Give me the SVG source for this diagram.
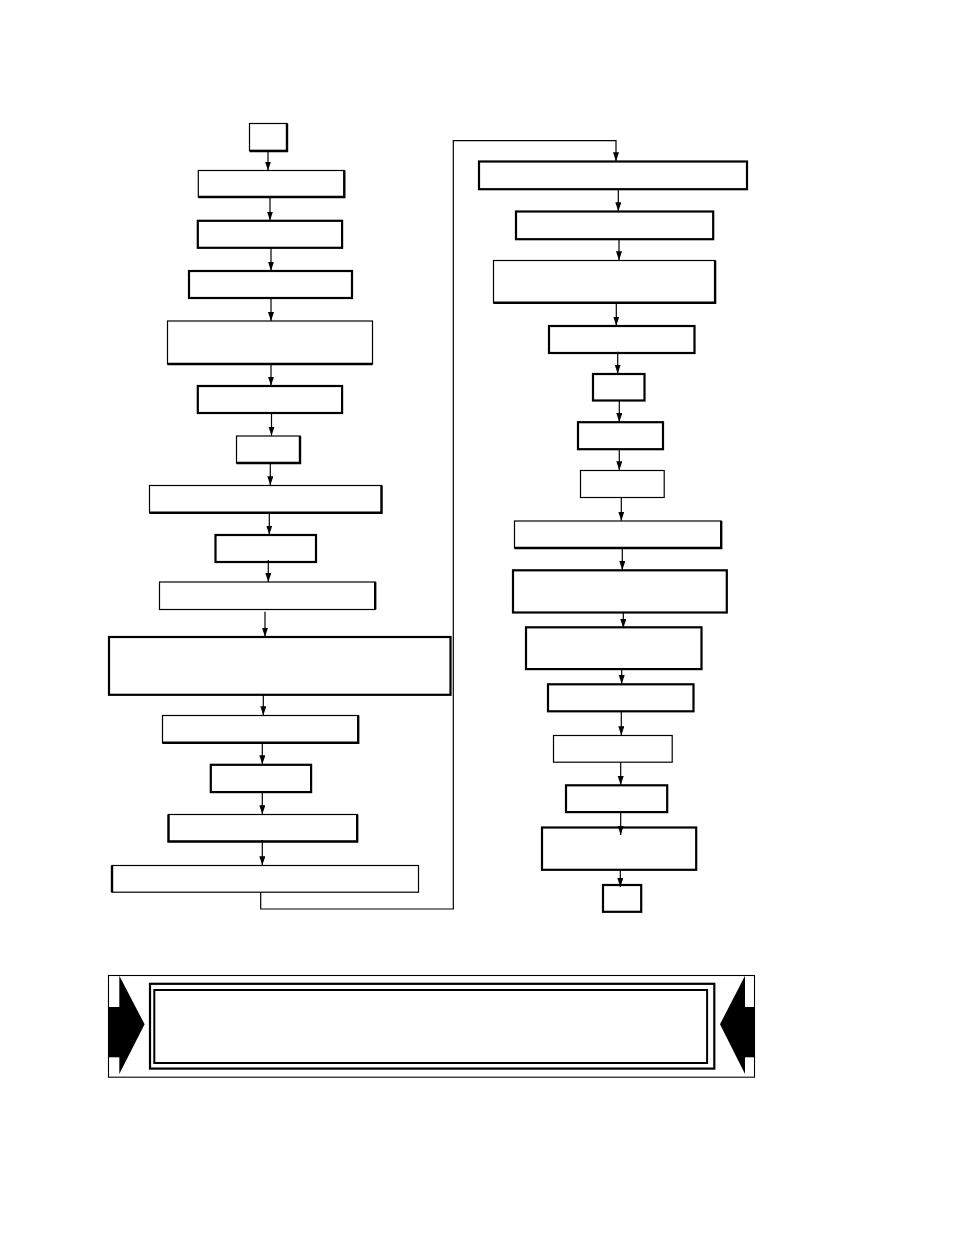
<svg xmlns="http://www.w3.org/2000/svg" width="954" height="1235" viewBox="0 0 954 1235">
<style>
.sh{fill:#fff;stroke:#000;stroke-width:1.2}
.ed{fill:none;stroke:#000;stroke-width:2.4}
.tk{fill:#fff;stroke:#000;stroke-width:2.2}
.c{fill:none;stroke:#000;stroke-width:1.2;marker-end:url(#ah)}
</style>
<defs>
<marker id="ah" markerUnits="userSpaceOnUse" markerWidth="10" markerHeight="8" refX="9" refY="3" orient="auto">
<path d="M0,0 L9,3 L0,6 z" fill="#000"/>
</marker>
</defs>
<rect width="954" height="1235" fill="#fff"/>
<g id="L1"><rect class="sh" x="249.5" y="123.5" width="37.5" height="27"/><path class="ed" d="M287,123.5 V151 H249.5"/></g>
<g id="L2"><rect class="sh" x="198.3" y="170.5" width="146" height="26.5"/><path class="ed" d="M344.3,170.5 V197 H198.3"/></g>
<g id="L3"><rect class="tk" x="197.8" y="220.8" width="144.3" height="27"/></g>
<g id="L4"><rect class="tk" x="189" y="271" width="163" height="27"/></g>
<g id="L5"><rect class="sh" x="167.5" y="321" width="205" height="43"/><path class="ed" d="M167.5,364 H372.5"/></g>
<g id="L6"><rect class="tk" x="197.8" y="386" width="144.3" height="27"/></g>
<g id="L7"><rect class="sh" x="236.5" y="436" width="63.5" height="27"/><path class="ed" d="M300,436 V463 H236.5"/></g>
<g id="L8"><rect class="sh" x="149.5" y="485.5" width="232" height="27.3"/><path class="ed" d="M381.5,485.5 V512.8 H149.5"/></g>
<g id="L9"><rect class="tk" x="215.5" y="535" width="100.5" height="27"/></g>
<g id="L10"><rect class="sh" x="159.5" y="582" width="215.7" height="27.5"/><path class="ed" d="M375.2,582 V609.5"/></g>
<g id="L11"><rect class="tk" x="109" y="637" width="341.5" height="57.8"/></g>
<g id="L12"><rect class="sh" x="162.5" y="715.5" width="195.7" height="27.3"/><path class="ed" d="M358.2,715.5 V742.8 H162.5"/></g>
<g id="L13"><rect class="tk" x="210.8" y="764.8" width="100.3" height="27.3"/></g>
<g id="L14"><rect class="sh" x="168.5" y="814.5" width="188.7" height="27"/><path class="ed" d="M168.5,814.5 V841.5 H357.2 V814.5"/></g>
<g id="L15"><rect class="sh" x="112" y="865.5" width="306.5" height="26.7"/><path class="ed" d="M112,865.5 V892.2"/></g>
<g id="R1"><rect class="tk" x="479" y="161.5" width="268" height="27.7"/></g>
<g id="R2"><rect class="tk" x="516" y="211.5" width="197.2" height="27.7"/></g>
<g id="R3"><rect class="sh" x="493.5" y="260.5" width="221.6" height="42.3"/><path class="ed" d="M715.1,260.5 V302.8 H493.5"/></g>
<g id="R4"><rect class="tk" x="549" y="326" width="145.5" height="27"/></g>
<g id="R5"><rect class="tk" x="593" y="374" width="51.5" height="26.5"/></g>
<g id="R6"><rect class="tk" x="578" y="422.2" width="85" height="27"/></g>
<g id="R7"><rect class="sh" x="580.5" y="470.5" width="83.7" height="27"/></g>
<g id="R8"><rect class="sh" x="514.5" y="521" width="206.7" height="27"/><path class="ed" d="M721.2,521 V548 H514.5"/></g>
<g id="R9"><rect class="tk" x="513" y="570.3" width="213.8" height="42.2"/></g>
<g id="R10"><rect class="tk" x="526" y="627.3" width="175.5" height="41.8"/></g>
<g id="R11"><rect class="tk" x="548" y="684.3" width="145.5" height="27"/></g>
<g id="R12"><rect class="sh" x="553.5" y="735.5" width="118.7" height="26.7"/></g>
<g id="R13"><rect class="tk" x="566" y="785.3" width="101.2" height="26.8"/></g>
<g id="R14"><rect class="tk" x="542" y="827.5" width="154.2" height="42.3"/></g>
<g id="R15"><rect class="tk" x="603" y="885" width="38.2" height="26.8"/></g>
<g id="connectors">
<path class="c" d="M268,151 V170.5"/>
<path class="c" d="M270,197 V220.5"/>
<path class="c" d="M271,248 V270.7"/>
<path class="c" d="M271,298 V321"/>
<path class="c" d="M271,364 V385.7"/>
<path class="c" d="M271.5,413 V435.7"/>
<path class="c" d="M270.3,463 V485.3"/>
<path class="c" d="M269.3,513 V534.7"/>
<path class="c" d="M268.3,560 V582"/>
<path class="c" d="M265,611.7 V636.7"/>
<path class="c" d="M263.3,695 V715.3"/>
<path class="c" d="M262.3,743 V764.3"/>
<path class="c" d="M262.3,792 V814.3"/>
<path class="c" d="M262.3,840 V865.3"/>
<path class="c" d="M260.7,892.3 V909 H453.3 V140.7 H616 V161.3"/>
<path class="c" d="M618.3,189.3 V211.3"/>
<path class="c" d="M619,239.3 V260.3"/>
<path class="c" d="M616.3,303 V325.7"/>
<path class="c" d="M617.7,351.7 V373.7"/>
<path class="c" d="M619.3,400.7 V422"/>
<path class="c" d="M619.3,449.3 V470.3"/>
<path class="c" d="M621.3,497.7 V520.7"/>
<path class="c" d="M622.3,548 V570"/>
<path class="c" d="M623.3,612.7 V628"/>
<path class="c" d="M621.7,669.3 V684"/>
<path class="c" d="M621.3,711.3 V735.3"/>
<path class="c" d="M620.7,762.3 V785"/>
<path class="c" d="M620.7,812.3 V835"/>
<path class="c" d="M620.3,870 V887"/>
</g>
<g id="banner">
<rect x="108.5" y="975.5" width="646" height="101.7" fill="#fff" stroke="#000" stroke-width="1.1"/>
<rect x="150" y="983.8" width="564.3" height="84.8" fill="none" stroke="#000" stroke-width="2.2"/>
<rect x="154.3" y="990" width="552.8" height="73" fill="none" stroke="#000" stroke-width="2"/>
<path d="M108.5,1007 H120 V1057.3 H108.5 z" fill="#000"/>
<path d="M119.3,975.7 L144.6,1024.3 L119.3,1074 z" fill="#000"/>
<path d="M754.5,1007 H744.3 V1057.3 H754.5 z" fill="#000"/>
<path d="M745,975.7 L720,1024.3 L745,1074 z" fill="#000"/>
</g>
</svg>
